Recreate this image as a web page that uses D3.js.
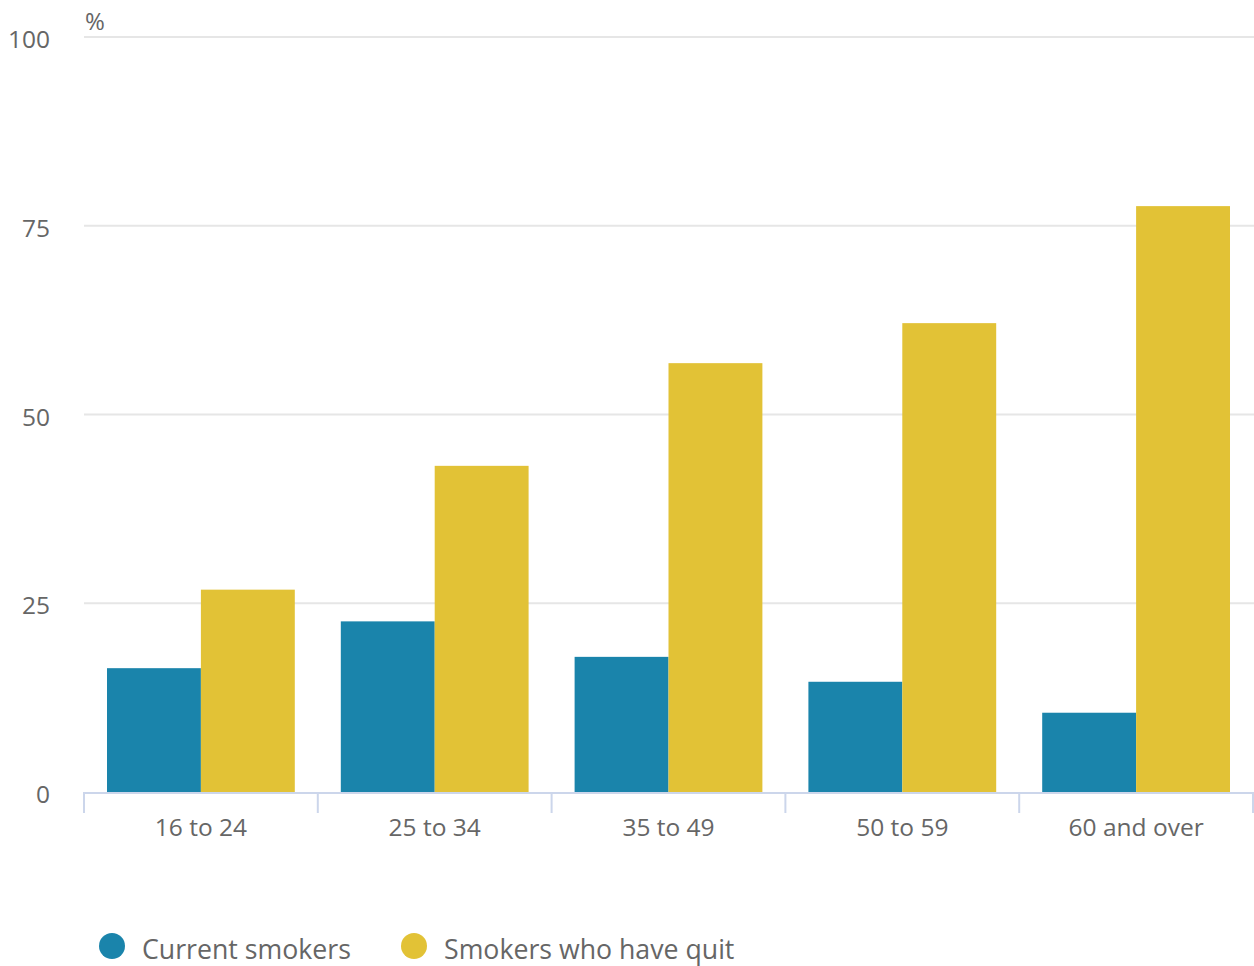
<!DOCTYPE html>
<html>
<head>
<meta charset="utf-8">
<script src="https://cdn.jsdelivr.net/npm/d3@7"></script>
<style>
  body { margin: 0; background: #fff; }
  svg { display: block; font-family: "Open Sans", sans-serif; }
</style>
</head>
<body>
<svg id="chart" width="1254" height="966"></svg>
<script>
// Data
const AGE_GROUPS = ['16 to 24', '25 to 34', '35 to 49', '50 to 59', '60 and over'];
const CURRENT_SMOKERS = [16.4, 22.6, 17.9, 14.6, 10.5];
const QUIT_SMOKERS = [26.8, 43.2, 56.8, 62.1, 77.6];
const SERIES_NAMES = ['Current smokers', 'Smokers who have quit'];
const Y_TICKS = [0, 25, 50, 75, 100];

const COLORS = ['#1a84ab', '#e2c236'];

const width = 1254;
const height = 966;
const margin = { top: 37, right: 1, bottom: 174, left: 84 };

const svg = d3.select('#chart');

const x = d3.scaleBand()
  .domain(AGE_GROUPS)
  .range([margin.left, width - margin.right])
  .paddingInner(0)
  .paddingOuter(0);

const xInner = d3.scaleBand()
  .domain(SERIES_NAMES)
  .range([0, x.bandwidth()])
  .paddingInner(0)
  .paddingOuter(0.245);

const y = d3.scaleLinear()
  .domain([0, 100])
  .range([height - margin.bottom, margin.top]);

// gridlines
svg.append('g')
  .selectAll('line')
  .data(Y_TICKS.filter(d => d > 0))
  .join('line')
  .attr('x1', margin.left)
  .attr('x2', width)
  .attr('y1', d => y(d))
  .attr('y2', d => y(d))
  .attr('stroke', '#e6e6e6')
  .attr('stroke-width', 2);

// y labels
svg.append('g')
  .selectAll('text')
  .data(Y_TICKS)
  .join('text')
  .attr('x', 50)
  .attr('y', d => y(d) + 11)
  .attr('text-anchor', 'end')
  .attr('fill', '#666')
  .style('font-size', '24.5px')
  .text(d => d);

svg.append('text')
  .attr('x', 85)
  .attr('y', 30)
  .attr('fill', '#666')
  .style('font-size', '24px')
  .text('%');

// bars
const rows = AGE_GROUPS.map((g, i) => ({ group: g, values: [CURRENT_SMOKERS[i], QUIT_SMOKERS[i]] }));

svg.append('g')
  .selectAll('g')
  .data(rows)
  .join('g')
  .attr('transform', d => `translate(${x(d.group)},0)`)
  .selectAll('rect')
  .data(d => d.values.map((v, j) => ({ name: SERIES_NAMES[j], value: v, idx: j })))
  .join('rect')
  .attr('x', d => xInner(d.name))
  .attr('width', xInner.bandwidth())
  .attr('y', d => y(d.value))
  .attr('height', d => y(0) - y(d.value))
  .attr('fill', d => COLORS[d.idx]);

// x axis
const axisG = svg.append('g');
const y0 = y(0);
axisG.append('line')
  .attr('x1', margin.left)
  .attr('x2', width)
  .attr('y1', y0 + 1)
  .attr('y2', y0 + 1)
  .attr('stroke', '#ccd6eb')
  .attr('stroke-width', 2);

const tickPositions = AGE_GROUPS.map(g => x(g)).concat([x.range()[1]]);
axisG.selectAll('line.tick')
  .data(tickPositions)
  .join('line')
  .attr('class', 'tick')
  .attr('x1', d => Math.min(d, width - 1))
  .attr('x2', d => Math.min(d, width - 1))
  .attr('y1', y0)
  .attr('y2', y0 + 21)
  .attr('stroke', '#ccd6eb')
  .attr('stroke-width', 2);

axisG.selectAll('text')
  .data(AGE_GROUPS)
  .join('text')
  .attr('x', d => x(d) + x.bandwidth() / 2)
  .attr('y', 836)
  .attr('text-anchor', 'middle')
  .attr('fill', '#666')
  .style('font-size', '24.5px')
  .text(d => d);

// legend
const legendX = [112, 414];
const legend = svg.append('g')
  .selectAll('g')
  .data(SERIES_NAMES)
  .join('g')
  .attr('transform', (d, i) => `translate(${legendX[i]},946)`);

legend.append('circle')
  .attr('r', 13)
  .attr('fill', (d, i) => COLORS[i]);

legend.append('text')
  .attr('x', 30)
  .attr('y', 13)
  .attr('fill', '#666')
  .style('font-size', '26.7px')
  .text(d => d);
</script>
</body>
</html>
